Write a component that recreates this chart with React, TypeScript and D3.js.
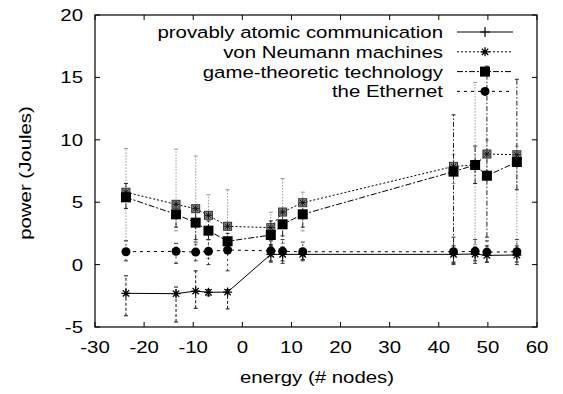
import * as d3 from "d3";

// x positions shared by every series
const energy = [-23.7, -13.5, -9.5, -6.9, -3.0, 5.8, 8.2, 12.3, 43.0, 47.4, 49.8, 55.9];

const atomic = [-2.3, -2.33, -2.12, -2.22, -2.2, 0.82, 0.82, 0.82, 0.82, 0.85, 0.74, 0.77];
const atomicLo = [-4.1, -4.6, -3.5, -2.5, -3.55, 0.2, 0.3, 0.4, 0.2, 0.3, 0.2, 0.2];
const atomicHi = [-0.9, -1.8, -0.5, -2.0, -2.0, 1.6, 1.4, 1.3, 1.5, 1.4, 1.5, 1.5];

const neumann = [5.8, 4.83, 4.48, 3.95, 3.07, 2.96, 4.21, 4.96, 7.87, 7.98, 8.86, 8.8];
const neumannLo = [1.9, 2.7, 1.6, 0.5, 2.0, 2.0, 1.7, 2.7, 6.5, 1.6, 7.5, 1.3];
const neumannHi = [9.3, 9.25, 8.7, 5.6, 6.0, 4.2, 6.9, 5.8, 8.8, 14.6, 10.0, 9.5];

const game = [5.39, 4.03, 3.36, 2.72, 1.87, 2.37, 3.23, 4.03, 7.45, 7.98, 7.12, 8.22];
const gameLo = [4.5, 3.0, 2.0, 2.0, 1.0, 1.5, 2.3, 3.0, 0.1, 6.5, 2.2, 6.0];
const gameHi = [6.5, 5.0, 4.5, 3.5, 2.5, 3.5, 4.5, 5.0, 12.0, 9.5, 15.9, 14.85];

const ethernet = [1.03, 1.06, 1.0, 1.06, 1.17, 1.1, 1.06, 1.03, 1.03, 1.06, 1.0, 1.03];
const ethernetLo = [0.3, 0.1, 0.3, 0.0, -0.5, 0.3, 0.1, 0.3, 0.0, 0.1, 0.2, 0.0];
const ethernetHi = [1.9, 1.7, 1.8, 2.0, 1.7, 1.9, 2.0, 1.8, 2.2, 2.0, 1.9, 2.0];

const xTicks = [-30, -20, -10, 0, 10, 20, 30, 40, 50, 60];
const yTicks = [-5, 0, 5, 10, 15, 20];

const series = [
  { name: "provably atomic communication", y: atomic, lo: atomicLo, hi: atomicHi, dash: "none", bar: "#111", barDash: "3,2", mark: "star", legendMark: "plus" },
  { name: "von Neumann machines", y: neumann, lo: neumannLo, hi: neumannHi, dash: "2,2", bar: "#999", barDash: "1.5,1.5", mark: "boxstar", legendMark: "star" },
  { name: "game-theoretic technology", y: game, lo: gameLo, hi: gameHi, dash: "6,2,2,2", bar: "#222", barDash: "5,2,1.5,2", mark: "square", legendMark: "square" },
  { name: "the Ethernet", y: ethernet, lo: ethernetLo, hi: ethernetHi, dash: "3,4", bar: "#333", barDash: "2,3", mark: "circle", legendMark: "circle" },
];

const W = 563;
const H = 394;
const left = 95, right = 537, top = 15, bottom = 327;
const FS = 17;
const STRETCH = 1.2; // the reference's Helvetica is drawn wider than it is tall

const T = ({ x, y, anchor, rot, children }: { x: number; y: number; anchor: string; rot?: number; children: any }) => (
  <text
    transform={`translate(${x},${y})${rot ? ` rotate(${rot})` : ""} scale(${STRETCH},1)`}
    textAnchor={anchor}
    fontSize={FS}
  >
    {children}
  </text>
);

const Marker = ({ kind, x, y }: { kind: string; x: number; y: number }) => {
  if (kind === "plus")
    return <path d={`M${x - 5},${y}H${x + 5}M${x},${y - 5}V${y + 5}`} stroke="#000" strokeWidth={1.2} />;
  if (kind === "star")
    return (
      <path
        d={`M${x - 4.5},${y}H${x + 4.5}M${x},${y - 4.5}V${y + 4.5}M${x - 3.2},${y - 3.2}L${x + 3.2},${y + 3.2}M${x - 3.2},${y + 3.2}L${x + 3.2},${y - 3.2}`}
        stroke="#000"
        strokeWidth={1.3}
      />
    );
  if (kind === "boxstar")
    return (
      <g>
        <rect x={x - 4} y={y - 4} width={8} height={8} fill="#888" stroke="#333" strokeWidth={1} />
        <path
          d={`M${x - 3.5},${y}H${x + 3.5}M${x},${y - 3.5}V${y + 3.5}M${x - 2.6},${y - 2.6}L${x + 2.6},${y + 2.6}M${x - 2.6},${y + 2.6}L${x + 2.6},${y - 2.6}`}
          stroke="#111"
          strokeWidth={1}
        />
      </g>
    );
  if (kind === "square") return <rect x={x - 5} y={y - 5} width={10} height={10} fill="#000" />;
  return <circle cx={x} cy={y} r={4.5} fill="#000" />;
};

export default function App() {
  const x = d3.scaleLinear().domain([-30, 60]).range([left, right]);
  const y = d3.scaleLinear().domain([-5, 20]).range([bottom, top]);
  const font = "'Liberation Sans', Arial, sans-serif";
  const tick = 5;

  return (
    <svg width={W} height={H} style={{ position: "absolute", left: 0, top: 0, background: "#fff" }} fontFamily={font}>
      <rect width={W} height={H} fill="#fff" />
      {/* ticks */}
      {xTicks.map((t) => (
        <g key={"x" + t}>
          <line x1={x(t)} x2={x(t)} y1={bottom} y2={bottom - tick} stroke="#000" />
          <line x1={x(t)} x2={x(t)} y1={top} y2={top + tick} stroke="#000" />
          <T x={x(t)} y={353} anchor="middle">
            {t}
          </T>
        </g>
      ))}
      {yTicks.map((t) => (
        <g key={"y" + t}>
          <line x1={left} x2={left + tick} y1={y(t)} y2={y(t)} stroke="#000" />
          <line x1={right} x2={right - tick} y1={y(t)} y2={y(t)} stroke="#000" />
          <T x={83} y={y(t) + 6} anchor="end">
            {t}
          </T>
        </g>
      ))}
      {/* error bars */}
      {series.map((s, si) =>
        energy.map((e, i) => (
          <g key={`e${si}-${i}`} stroke={s.bar} strokeWidth={1}>
            <line x1={x(e)} x2={x(e)} y1={y(s.lo[i])} y2={y(s.hi[i])} strokeDasharray={s.barDash} />
            <line x1={x(e) - 2} x2={x(e) + 2} y1={y(s.lo[i])} y2={y(s.lo[i])} />
            <line x1={x(e) - 2} x2={x(e) + 2} y1={y(s.hi[i])} y2={y(s.hi[i])} />
          </g>
        ))
      )}
      {/* lines */}
      {series.map((s, si) => {
        const line = d3
          .line<number>()
          .x((_, i) => x(energy[i]))
          .y((v) => y(v));
        return (
          <path key={"l" + si} d={line(s.y) || ""} fill="none" stroke="#000" strokeWidth={1} strokeDasharray={s.dash} />
        );
      })}
      {/* markers */}
      {series.map((s, si) =>
        energy.map((e, i) => <Marker key={`m${si}-${i}`} kind={s.mark} x={x(e)} y={y(s.y[i])} />)
      )}
      {/* legend */}
      {series.map((s, si) => {
        const ly = 32 + si * 19.8;
        return (
          <g key={"lg" + si}>
            <T x={443} y={ly + 6} anchor="end">
              {s.name}
            </T>
            <line x1={457} x2={513} y1={ly} y2={ly} stroke="#000" strokeDasharray={s.dash} />
            <Marker kind={s.legendMark} x={485} y={ly} />
          </g>
        );
      })}
      {/* frame */}
      <rect x={left} y={top} width={right - left} height={bottom - top} fill="none" stroke="#000" strokeWidth={1.2} />
      <T x={317} y={383} anchor="middle">
        energy (# nodes)
      </T>
      <T x={31} y={(top + bottom) / 2 + 2} anchor="middle" rot={-90}>
        power (Joules)
      </T>
    </svg>
  );
}
